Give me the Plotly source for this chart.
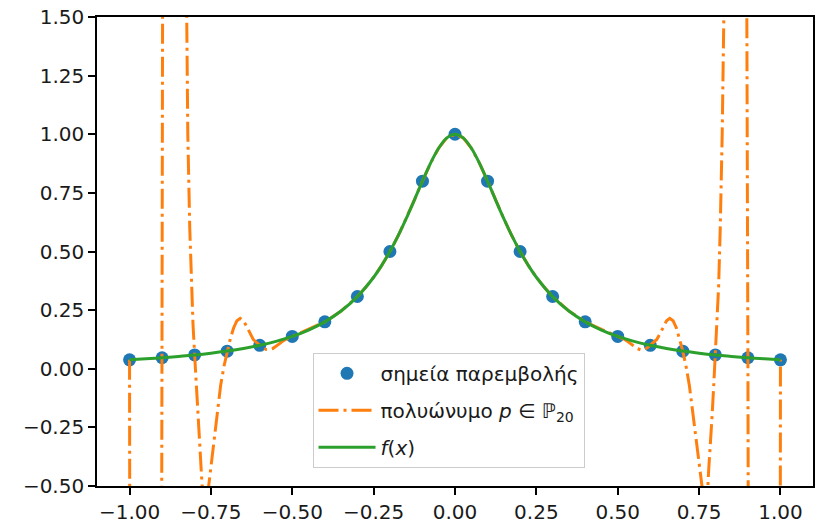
import plotly.graph_objects as go

# Interpolation nodes
node_x = [-1.0, -0.9, -0.8, -0.7, -0.6, -0.5, -0.4, -0.3, -0.2, -0.1, 0.0,
          0.1, 0.2, 0.3, 0.4, 0.5, 0.6, 0.7, 0.8, 0.9, 1.0]
node_y = [0.038, 0.047, 0.059, 0.075, 0.100, 0.138, 0.200, 0.308, 0.500, 0.800, 1.000,
          0.800, 0.500, 0.308, 0.200, 0.138, 0.100, 0.075, 0.059, 0.047, 0.038]

# Interpolating polynomial p (values read/estimated from the picture)
poly_x = [-1.000, -0.998, -0.99, -0.98, -0.97, -0.96, -0.95, -0.94, -0.93, -0.92, -0.91,
          -0.902, -0.900, -0.898, -0.89, -0.88, -0.87, -0.86, -0.85, -0.84, -0.83, -0.826,
          -0.821, -0.815, -0.81, -0.805, -0.800, -0.795, -0.79, -0.785, -0.78, -0.777,
          -0.772, -0.767, -0.762, -0.757, -0.75, -0.74, -0.73, -0.72, -0.71, -0.70,
          -0.69, -0.68, -0.67, -0.66, -0.65, -0.64, -0.63, -0.62, -0.61, -0.60,
          -0.59, -0.58, -0.57, -0.56, -0.55, -0.54, -0.53, -0.52, -0.51, -0.50,
          -0.45, -0.40, -0.35, -0.30, -0.275, -0.25, -0.225, -0.20, -0.175, -0.15,
          -0.125, -0.10, -0.075, -0.05, -0.025, 0.0,
          0.025, 0.05, 0.075, 0.10, 0.125, 0.15, 0.175, 0.20, 0.225, 0.25, 0.275,
          0.30, 0.35, 0.40, 0.45, 0.50,
          0.51, 0.52, 0.53, 0.54, 0.55, 0.56, 0.57, 0.58, 0.59, 0.60,
          0.61, 0.62, 0.63, 0.64, 0.65, 0.66, 0.67, 0.68, 0.69, 0.70,
          0.71, 0.72, 0.73, 0.74, 0.75, 0.757, 0.762, 0.767, 0.772, 0.777,
          0.78, 0.785, 0.79, 0.795, 0.800, 0.805, 0.81, 0.815, 0.821, 0.826,
          0.83, 0.84, 0.85, 0.86, 0.87, 0.88, 0.89, 0.897, 0.900, 0.902,
          0.91, 0.92, 0.93, 0.94, 0.95, 0.96, 0.97, 0.98, 0.99, 0.998, 1.000]
poly_y = [0.038, -3.0, -20, -38, -50, -57, -58, -52, -40, -24, -9,
          -1.2, 0.047, 1.9, 4.5, 6.5, 7.2, 6.8, 5.6, 3.9, 2.2, 1.5,
          1.0, 0.6, 0.35, 0.19, 0.059, -0.07, -0.2, -0.32, -0.42, -0.5,
          -0.56, -0.59, -0.56, -0.5, -0.42, -0.3, -0.18, -0.07, 0.01, 0.075,
          0.13, 0.175, 0.205, 0.215, 0.205, 0.18, 0.15, 0.125, 0.112, 0.100,
          0.089, 0.082, 0.081, 0.086, 0.095, 0.106, 0.117, 0.126, 0.133, 0.138,
          0.168, 0.200, 0.246, 0.308, 0.346, 0.390, 0.441, 0.500, 0.566, 0.640,
          0.719, 0.800, 0.877, 0.941, 0.985, 1.000,
          0.985, 0.941, 0.877, 0.800, 0.719, 0.640, 0.566, 0.500, 0.441, 0.390, 0.346,
          0.308, 0.246, 0.200, 0.168, 0.138,
          0.133, 0.126, 0.117, 0.106, 0.095, 0.086, 0.081, 0.082, 0.089, 0.100,
          0.112, 0.125, 0.15, 0.18, 0.205, 0.215, 0.205, 0.175, 0.13, 0.075,
          0.01, -0.07, -0.18, -0.3, -0.42, -0.5, -0.56, -0.59, -0.56, -0.5,
          -0.42, -0.32, -0.2, -0.07, 0.059, 0.19, 0.35, 0.6, 1.0, 1.5,
          2.2, 3.9, 5.6, 6.8, 7.2, 6.5, 4.5, 1.9, 0.047, -1.2,
          -9, -24, -40, -52, -58, -57, -50, -38, -20, -3.0, 0.038]

# Function f(x)
f_x = [-1.0, -0.95, -0.9, -0.85, -0.8, -0.75, -0.7, -0.65, -0.6, -0.55, -0.5, -0.45,
       -0.4, -0.35, -0.3, -0.25, -0.225, -0.2, -0.175, -0.15, -0.125, -0.1, -0.075,
       -0.05, -0.025, 0.0, 0.025, 0.05, 0.075, 0.1, 0.125, 0.15, 0.175, 0.2, 0.225,
       0.25, 0.3, 0.35, 0.4, 0.45, 0.5, 0.55, 0.6, 0.65, 0.7, 0.75, 0.8, 0.85, 0.9,
       0.95, 1.0]
f_y = [0.0385, 0.0424, 0.0471, 0.0525, 0.0588, 0.0664, 0.0755, 0.0865, 0.100, 0.1168,
       0.1379, 0.165, 0.200, 0.2462, 0.3077, 0.3902, 0.4414, 0.500, 0.5664, 0.640,
       0.7191, 0.800, 0.8767, 0.9412, 0.9846, 1.000, 0.9846, 0.9412, 0.8767, 0.800,
       0.7191, 0.640, 0.5664, 0.500, 0.4414, 0.3902, 0.3077, 0.2462, 0.200, 0.165,
       0.1379, 0.1168, 0.100, 0.0865, 0.0755, 0.0664, 0.0588, 0.0525, 0.0471, 0.0424,
       0.0385]

x_ticks = [-1.0, -0.75, -0.5, -0.25, 0.0, 0.25, 0.5, 0.75, 1.0]
x_ticktext = ["\u22121.00", "\u22120.75", "\u22120.50", "\u22120.25", "0.00",
              "0.25", "0.50", "0.75", "1.00"]
y_ticks = [-0.5, -0.25, 0.0, 0.25, 0.5, 0.75, 1.0, 1.25, 1.5]
y_ticktext = ["\u22120.50", "\u22120.25", "0.00", "0.25", "0.50", "0.75",
              "1.00", "1.25", "1.50"]

names = ["σημεία παρεμβολής",
         "πολυώνυμο <i>p</i> ∈ <i>ℙ</i><sub>20</sub>",
         "<i>f</i>(<i>x</i>)"]

fig = go.Figure()
fig.add_trace(go.Scatter(x=node_x, y=node_y, mode="markers", name=names[0],
                         legendgroup="a",
                         marker=dict(color="#1f77b4", size=13, line=dict(width=0))))
fig.add_trace(go.Scatter(x=poly_x, y=poly_y, mode="lines", name=names[1],
                         legendgroup="b",
                         line=dict(color="#ff7f0e", width=3,
                                   dash="20px,5px,3px,5px")))
fig.add_trace(go.Scatter(x=f_x, y=f_y, mode="lines", name=names[2],
                         legendgroup="c",
                         line=dict(color="#2ca02c", width=3, shape="spline")))

axis_common = dict(showline=True, linecolor="black", linewidth=1.6, mirror=True,
                   ticks="outside", ticklen=7, tickwidth=1.6, tickcolor="black",
                   showgrid=False, zeroline=False,
                   tickfont=dict(family="DejaVu Sans", size=20, color="#1a1a1a"))

fig.update_layout(
    width=816, height=526,
    margin=dict(l=97, r=1, t=17, b=40),
    paper_bgcolor="white", plot_bgcolor="white",
    font=dict(family="DejaVu Sans", size=20, color="#1a1a1a"),
    xaxis=dict(range=[-1.1, 1.1], tickvals=x_ticks, ticktext=x_ticktext, **axis_common),
    yaxis=dict(range=[-0.5, 1.5], tickvals=y_ticks, ticktext=y_ticktext, **axis_common),
    legend=dict(x=0.301, y=0.284, xanchor="left", yanchor="top",
                bgcolor="rgba(255,255,255,0.8)", bordercolor="#cccccc", borderwidth=1,
                font=dict(family="DejaVu Sans", size=20, color="#1a1a1a"),
                itemwidth=57, tracegroupgap=8, traceorder="grouped"),
    showlegend=True,
)

fig.write_html("out.html")
